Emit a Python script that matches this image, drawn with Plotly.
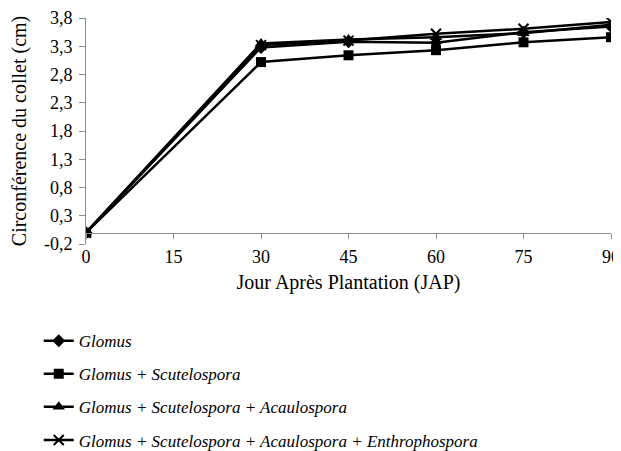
import plotly.graph_objects as go

days = [0, 15, 30, 45, 60, 75, 90]
x_days = [0, 30, 45, 60, 75, 90]
glomus = [0.0, 3.28, 3.38, 3.36, 3.55, 3.65]
glomus_scut = [0.0, 3.02, 3.14, 3.23, 3.37, 3.46]
glomus_scut_acau = [0.0, 3.35, 3.42, 3.46, 3.53, 3.68]
glomus_scut_acau_enth = [0.0, 3.32, 3.40, 3.52, 3.61, 3.73]
y_ticks = [-0.2, 0.3, 0.8, 1.3, 1.8, 2.3, 2.8, 3.3, 3.8]
y_ticklabels = [f"{v:.1f}".replace(".", ",") for v in y_ticks]

series = [
    ("<i>Glomus</i>", glomus, "diamond", 10),
    ("<i>Glomus + Scutelospora</i>", glomus_scut, "square", 10),
    ("<i>Glomus + Scutelospora + Acaulospora</i>", glomus_scut_acau, "triangle-up", 11),
    ("<i>Glomus + Scutelospora + Acaulospora + Enthrophospora</i>", glomus_scut_acau_enth, "x-thin", 10),
]

FONT = "Liberation Serif"
fig = go.Figure()
for i, (name, vals, sym, size) in enumerate(series):
    fig.add_trace(go.Scatter(
        x=x_days, y=vals, name=name, mode="lines+markers",
        legendgroup=f"g{i}",
        line=dict(color="black", width=2.5),
        marker=dict(symbol=sym, size=size, color="black",
                    line=dict(color="black", width=2 if sym == "x-thin" else 0)),
    ))

# page body has an 8px margin, so the figure is sized to fit the 621x451 window
fig.update_layout(
    width=613, height=443,
    margin=dict(l=78, r=10, t=10, b=207, autoexpand=False),
    paper_bgcolor="white", plot_bgcolor="white",
    font=dict(family=FONT, size=18, color="black"),
    showlegend=True,
    legend=dict(
        x=-0.09, y=-0.35, yanchor="top", xanchor="left",
        orientation="v", traceorder="grouped", tracegroupgap=8,
        font=dict(family=FONT, size=17, color="black"),
        itemwidth=30, bgcolor="rgba(0,0,0,0)",
    ),
    xaxis=dict(
        range=[0, 90], tickvals=days, ticktext=[str(d) for d in days],
        showgrid=False, zeroline=False, showline=True, linecolor="#8c8c8c", linewidth=1,
        ticks="outside", ticklen=5, tickcolor="#8c8c8c", ticklabelstandoff=3,
        anchor="free", position=0.05,
        title=dict(text="Jour Après Plantation (JAP)", font=dict(family=FONT, size=20), standoff=8),
    ),
    yaxis=dict(
        range=[-0.2, 3.8], tickvals=y_ticks, ticktext=y_ticklabels,
        showgrid=False, zeroline=False, showline=True, linecolor="#8c8c8c", linewidth=1,
        ticks="outside", ticklen=6, tickcolor="#8c8c8c", ticklabelstandoff=3,
        title=dict(text="Circonférence du collet (cm)", font=dict(family=FONT, size=20), standoff=12),
    ),
)

fig.write_html("out.html")
